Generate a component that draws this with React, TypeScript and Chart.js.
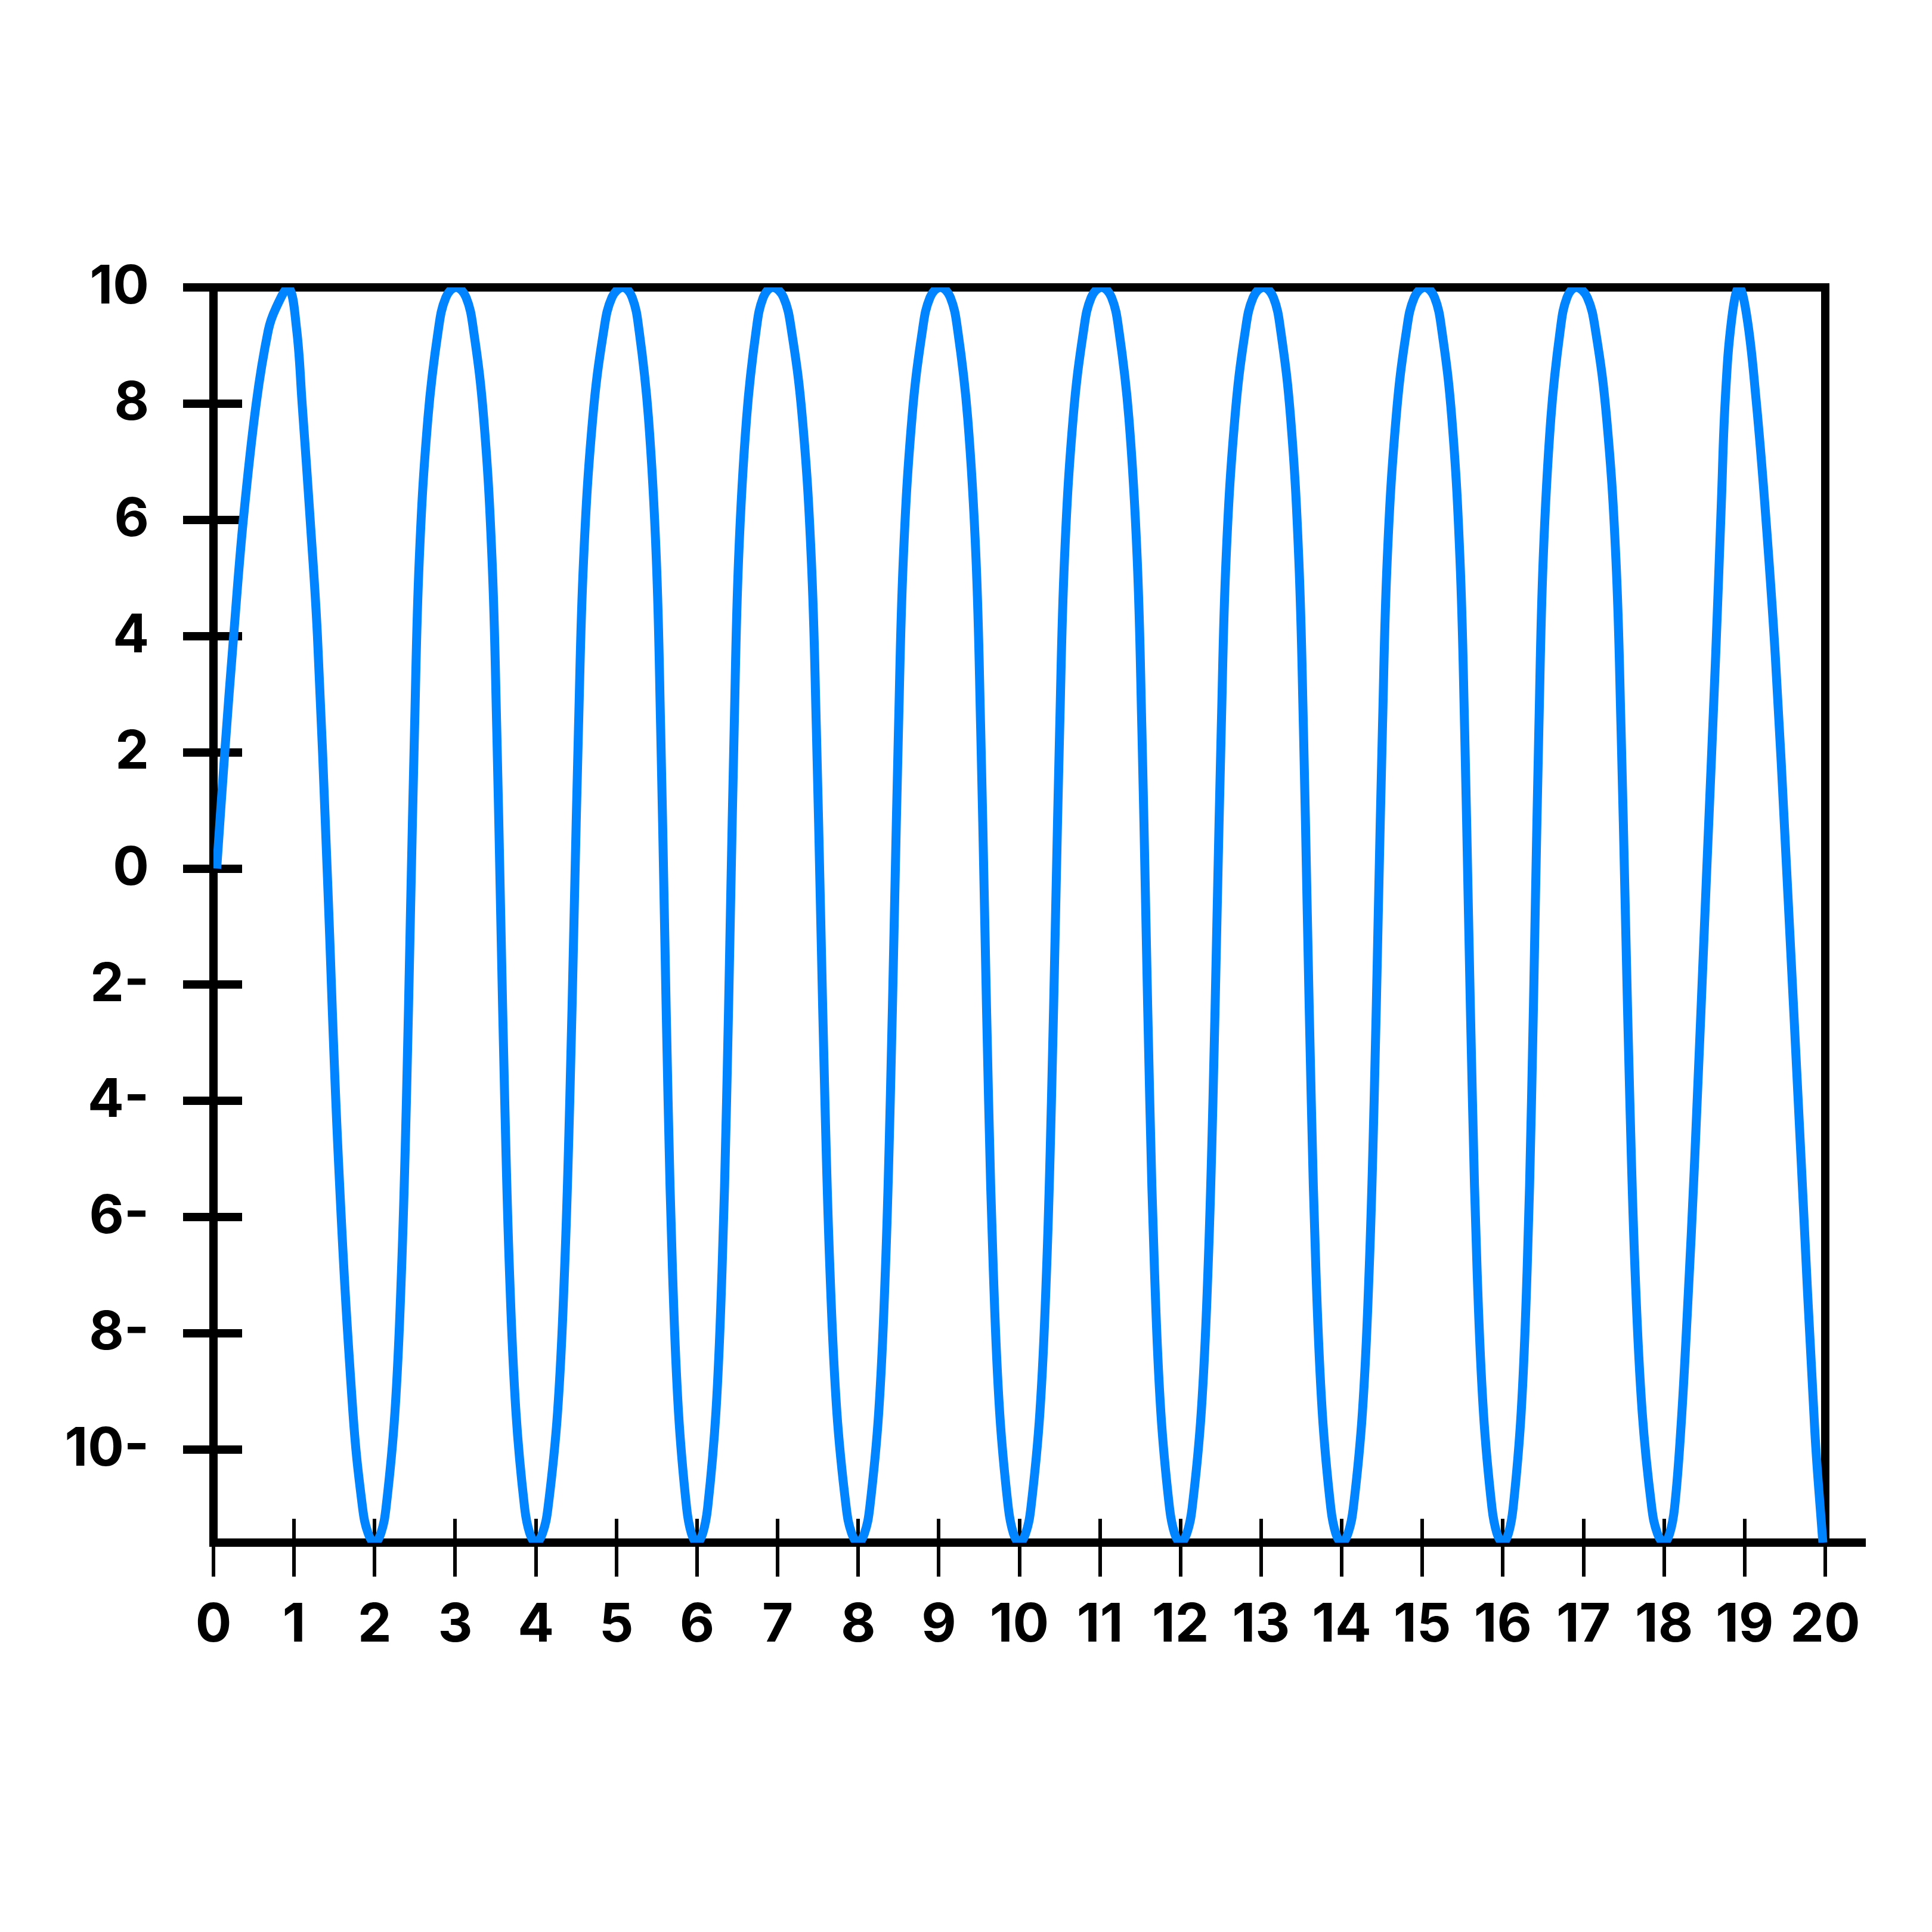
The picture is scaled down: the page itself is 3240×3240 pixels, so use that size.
import React, { useEffect, useRef } from "react";
import { Chart, registerables } from "chart.js";

Chart.register(...registerables);

// ---- curve samples (x, y), one row per half wave ----
const waveX = [
  0.04, 0.14, 0.25, 0.37, 0.53, 0.68, 0.77, 0.93,
  1.03, 1.10, 1.20, 1.29, 1.41, 1.55, 1.73, 1.85, 1.919, 2.0,
  2.077, 2.141, 2.252, 2.333, 2.394, 2.444, 2.495, 2.554, 2.661, 2.788, 2.884, 3.01,
  3.134, 3.228, 3.353, 3.456, 3.515, 3.564, 3.614, 3.673, 3.753, 3.861, 3.925, 4.0,
  4.082, 4.151, 4.27, 4.356, 4.421, 4.475, 4.529, 4.593, 4.706, 4.842, 4.945, 5.08,
  5.195, 5.282, 5.398, 5.495, 5.549, 5.595, 5.641, 5.696, 5.77, 5.871, 5.93, 6.0,
  6.071, 6.132, 6.235, 6.31, 6.367, 6.414, 6.461, 6.516, 6.615, 6.733, 6.822, 6.94,
  7.073, 7.173, 7.307, 7.418, 7.481, 7.534, 7.587, 7.65, 7.735, 7.852, 7.919, 8.0,
  8.078, 8.143, 8.255, 8.337, 8.398, 8.449, 8.5, 8.56, 8.667, 8.796, 8.892, 9.02,
  9.143, 9.236, 9.359, 9.462, 9.52, 9.569, 9.618, 9.677, 9.755, 9.863, 9.926, 10.0,
  10.078, 10.143, 10.255, 10.337, 10.398, 10.449, 10.5, 10.56, 10.667, 10.796, 10.892, 11.02,
  11.143, 11.236, 11.359, 11.462, 11.52, 11.569, 11.618, 11.677, 11.755, 11.863, 11.926, 12.0,
  12.078, 12.144, 12.257, 12.34, 12.402, 12.453, 12.505, 12.565, 12.674, 12.803, 12.901, 13.03,
  13.151, 13.243, 13.366, 13.467, 13.525, 13.573, 13.622, 13.68, 13.758, 13.864, 13.926, 14.0,
  14.078, 14.144, 14.257, 14.34, 14.402, 14.453, 14.505, 14.565, 14.674, 14.803, 14.901, 15.03,
  15.151, 15.243, 15.366, 15.467, 15.525, 15.573, 15.622, 15.68, 15.758, 15.864, 15.926, 16.0,
  16.069, 16.127, 16.227, 16.3, 16.355, 16.4, 16.446, 16.5, 16.595, 16.71, 16.796, 16.91,
  17.046, 17.15, 17.287, 17.402, 17.466, 17.52, 17.575, 17.64, 17.728, 17.847, 17.917, 18.0,
  18.07, 18.13, 18.21, 18.29, 18.38, 18.53, 18.64, 18.71, 18.76, 18.84, 18.93,
  19.03, 19.14, 19.25, 19.38, 19.52, 19.70, 19.87, 19.97,
];

const waveY = [
  0, 2, 4, 6, 8, 9.26, 9.63, 10,
  9.3, 8, 6, 4, 0, -5, -9.35, -11.0, -11.44, -11.6,
  -11.44, -11.0, -9.35, -6.93, -4.0, -0.8, 2.4, 5.33, 7.75, 9.25, 9.83, 10,
  9.83, 9.25, 7.75, 5.33, 2.4, -0.8, -4.0, -6.93, -9.35, -11.0, -11.44, -11.6,
  -11.44, -11.0, -9.35, -6.93, -4.0, -0.8, 2.4, 5.33, 7.75, 9.25, 9.83, 10,
  9.83, 9.25, 7.75, 5.33, 2.4, -0.8, -4.0, -6.93, -9.35, -11.0, -11.44, -11.6,
  -11.44, -11.0, -9.35, -6.93, -4.0, -0.8, 2.4, 5.33, 7.75, 9.25, 9.83, 10,
  9.83, 9.25, 7.75, 5.33, 2.4, -0.8, -4.0, -6.93, -9.35, -11.0, -11.44, -11.6,
  -11.44, -11.0, -9.35, -6.93, -4.0, -0.8, 2.4, 5.33, 7.75, 9.25, 9.83, 10,
  9.83, 9.25, 7.75, 5.33, 2.4, -0.8, -4.0, -6.93, -9.35, -11.0, -11.44, -11.6,
  -11.44, -11.0, -9.35, -6.93, -4.0, -0.8, 2.4, 5.33, 7.75, 9.25, 9.83, 10,
  9.83, 9.25, 7.75, 5.33, 2.4, -0.8, -4.0, -6.93, -9.35, -11.0, -11.44, -11.6,
  -11.44, -11.0, -9.35, -6.93, -4.0, -0.8, 2.4, 5.33, 7.75, 9.25, 9.83, 10,
  9.83, 9.25, 7.75, 5.33, 2.4, -0.8, -4.0, -6.93, -9.35, -11.0, -11.44, -11.6,
  -11.44, -11.0, -9.35, -6.93, -4.0, -0.8, 2.4, 5.33, 7.75, 9.25, 9.83, 10,
  9.83, 9.25, 7.75, 5.33, 2.4, -0.8, -4.0, -6.93, -9.35, -11.0, -11.44, -11.6,
  -11.44, -11.0, -9.35, -6.93, -4.0, -0.8, 2.4, 5.33, 7.75, 9.25, 9.83, 10,
  9.83, 9.25, 7.75, 5.33, 2.4, -0.8, -4.0, -6.93, -9.35, -11.0, -11.44, -11.6,
  -11.44, -11.0, -9.6, -7.6, -5, 0, 3.66, 6.27, 8.09, 9.47, 10,
  9.47, 8.09, 6.27, 3.66, 0, -5, -9.67, -11.6,
];

const xTickValues = [0, 1, 2, 3, 4, 5, 6, 7, 8, 9, 10, 11, 12, 13, 14, 15, 16, 17, 18, 19, 20];
const xTickLabels = ["0", "1", "2", "3", "4", "5", "6", "7", "8", "9", "10", "11", "12", "13", "14", "15", "16", "17", "18", "19", "20"];
const yTickValues = [-10, -8, -6, -4, -2, 0, 2, 4, 6, 8, 10];
const yTickLabels = ["10-", "8-", "6-", "4-", "2-", "0", "2", "4", "6", "8", "10"];

const X_MIN = 0;
const X_MAX = 20;
const Y_MIN = -11.6;
const Y_MAX = 10;

const BLACK = "#000000";
const LINE_BLUE = "#0084FF";
const FONT = { family: "Inter", size: 90, weight: "700" as const };

export default function App() {
  const canvasRef = useRef<HTMLCanvasElement | null>(null);

  useEffect(() => {
    const canvas = canvasRef.current;
    if (!canvas) return;

    const n = Math.min(waveX.length, waveY.length);
    const points = waveX.slice(0, n).map((x, i) => ({ x, y: waveY[i] }));
    const setXTicks = (s: any) => {
      s.ticks = xTickValues.map((v) => ({ value: v }));
    };
    const setYTicks = (s: any) => {
      s.ticks = yTickValues.map((v) => ({ value: v }));
    };

    const extendBottomAxis = {
      id: "extendBottomAxis",
      afterLayout(chart: any) {
        const sx = chart.scales.x;
        if (sx) sx.right = sx.right + 65;
      },
    };

    const chart = new Chart(canvas, {
      type: "line",
      data: {
        datasets: [
          {
            data: points,
            borderColor: LINE_BLUE,
            borderWidth: 15,
            pointRadius: 0,
            pointHoverRadius: 0,
            fill: false,
            tension: 0.4,
            borderJoinStyle: "round",
          },
        ],
      },
      options: {
        animation: false,
        responsive: false,
        devicePixelRatio: 1,
        events: [],
        layout: { padding: { left: 0, top: 482, right: 179, bottom: 0 } },
        plugins: {
          legend: { display: false },
          tooltip: { enabled: false },
          title: { display: false },
        },
        scales: {
          x: {
            type: "linear",
            position: "bottom",
            weight: 0,
            min: X_MIN,
            max: X_MAX,
            afterBuildTicks: setXTicks,
            afterFit: (s: any) => {
              s.height = 653;
            },
            ticks: {
              autoSkip: false,
              maxRotation: 0,
              minRotation: 0,
              padding: 28,
              color: BLACK,
              font: FONT,
              callback: (_v: any, i: number) => xTickLabels[i],
            },
            grid: {
              display: true,
              drawOnChartArea: false,
              drawTicks: true,
              tickLength: 57,
              lineWidth: 6,
              color: BLACK,
            },
            border: { display: true, width: 14, color: BLACK },
          },
          xIn: {
            type: "linear",
            position: "bottom",
            weight: -1,
            min: X_MIN,
            max: X_MAX,
            afterBuildTicks: setXTicks,
            afterFit: (s: any) => {
              s.height = 0;
            },
            ticks: { display: false },
            grid: {
              display: true,
              drawOnChartArea: false,
              drawTicks: true,
              tickLength: -40,
              lineWidth: 6,
              color: BLACK,
            },
            border: { display: false },
          },
          xTop: {
            type: "linear",
            position: "top",
            min: X_MIN,
            max: X_MAX,
            afterFit: (s: any) => {
              s.height = 0;
            },
            ticks: { display: false },
            grid: { display: false, drawTicks: false },
            border: { display: true, width: 14, color: BLACK },
          },
          y: {
            type: "linear",
            position: "left",
            weight: 0,
            min: Y_MIN,
            max: Y_MAX,
            afterBuildTicks: setYTicks,
            afterFit: (s: any) => {
              s.width = 358;
            },
            ticks: {
              padding: 57,
              color: BLACK,
              font: FONT,
              callback: (_v: any, i: number) => yTickLabels[i],
            },
            grid: {
              display: true,
              drawOnChartArea: false,
              drawTicks: true,
              tickLength: 51,
              lineWidth: 14,
              color: BLACK,
            },
            border: { display: true, width: 14, color: BLACK },
          },
          yIn: {
            type: "linear",
            position: "left",
            weight: -1,
            min: Y_MIN,
            max: Y_MAX,
            afterBuildTicks: setYTicks,
            afterFit: (s: any) => {
              s.width = 0;
            },
            ticks: { display: false },
            grid: {
              display: true,
              drawOnChartArea: false,
              drawTicks: true,
              tickLength: -48,
              lineWidth: 14,
              color: BLACK,
            },
            border: { display: false },
          },
          yRight: {
            type: "linear",
            position: "right",
            min: Y_MIN,
            max: Y_MAX,
            afterFit: (s: any) => {
              s.width = 0;
            },
            ticks: { display: false },
            grid: { display: false, drawTicks: false },
            border: { display: true, width: 14, color: BLACK },
          },
        },
      } as any,
      plugins: [extendBottomAxis],
    });

    return () => {
      chart.destroy();
    };
  }, []);

  return (
    <div style={{ position: "absolute", left: 0, top: 0, width: 3240, height: 3240, background: "#ffffff" }}>
      <canvas ref={canvasRef} width={3240} height={3240} style={{ display: "block", width: 3240, height: 3240 }} />
    </div>
  );
}
